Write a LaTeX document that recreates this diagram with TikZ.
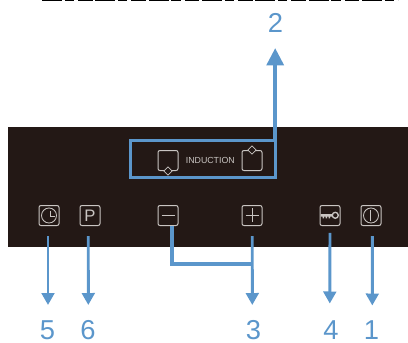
\documentclass[tikz,border=0pt]{standalone}
\usepackage{fontspec}
\setmainfont{Liberation Sans}
\usetikzlibrary{arrows.meta,shapes.geometric}
\definecolor{panel}{HTML}{231815}
\definecolor{callout}{HTML}{5B96CB}
\definecolor{keyline}{HTML}{C9C5C2}
\begin{document}
\begin{tikzpicture}[x=0.75pt,y=-0.75pt,
  key/.style = {draw=keyline, rounded corners=1.5pt, line width=0.75pt, minimum size=15pt, inner sep=0pt, text=keyline},
  tip/.style = {draw=keyline, fill=panel, diamond, line width=0.6pt, minimum size=6.5pt, inner sep=0pt},
  num/.style = {text=callout, font=\fontsize{20.5}{20.5}\selectfont, inner sep=0pt},
  lead/.style = {draw=callout, line width=2.2pt, -{Triangle[length=9pt,width=9.5pt]}},
  glyph/.style = {draw=keyline, line width=0.65pt}]
\useasboundingbox (0,0) rectangle (408,343);
\fill[panel] (8,127) rectangle (408,247);
% what is left of the cut off line at the top
\draw[line width=1.8pt, dash pattern=on 15pt off 2pt on 7pt off 3pt on 11pt off 2pt] (42,0) -- (398,0);
% keys
\node[key] (clock) at (49,215.5) {};
\node[key] (prog) at (90,215.5) {\fontsize{12.5}{12.5}\selectfont P};
\node[key] (minus) at (168,215.5) {};
\node[key] (plus) at (252,215.5) {};
\node[key] (lock) at (330,215.5) {};
\node[key] (power) at (371,215.5) {};
\draw[glyph] (clock) circle (7.5);
\draw[glyph] (50.5,210.7) -- (50.5,216.5) -- (55,216.5);
\draw[glyph] (161.5,215) -- (175,215);
\draw[glyph] (245.5,215) -- (259,215) (252.3,208) -- (252.3,222);
\fill[keyline] (320.7,214) rectangle (332.5,216.7) (322.5,216.7) rectangle (324,218.3) (325.5,216.7) rectangle (327,218.3) (328.5,216.7) rectangle (330,218.3);
\draw[keyline, line width=1pt] (335.3,215.3) circle (3);
\draw[glyph] (power) circle (7.5);
\draw[glyph] (370.8,210) -- (370.8,220.7);
% induction row
\node[key] (zoneb) at (168,160.5) {};
\node[key] (zonet) at (252,160.5) {};
\node[text=keyline, font=\fontsize{6.6}{6.6}\selectfont, inner sep=0pt] (ind) at (210.3,160) {INDUCTION};
\node[tip] (tipb) at (zoneb.south) {};
\node[tip] (tipt) at (zonet.north) {};
\node[draw=callout, line width=2.4pt, outer sep=0pt, minimum width=108.3pt, minimum height=27.5pt, inner sep=0pt] (zonebox) at (203,159.2) {};
% callouts
\coordinate (up) at (275.2,48);
\coordinate (d5) at (48,305);
\coordinate (d6) at (88.3,305);
\coordinate (d3) at (252.3,305);
\coordinate (d4) at (329.8,303.5);
\coordinate (d1) at (372.3,305.5);
\draw[lead, -{Triangle[length=13pt,width=12.5pt]}, line width=3pt] (zonebox.north east) -- (up);
\draw[lead] ([xshift=-0.75pt,yshift=-7.5pt]clock.south) -- (d5);
\draw[lead] ([xshift=-1.3pt,yshift=-7.5pt]prog.south) -- (d6);
\draw[lead] ([xshift=0.2pt,yshift=-7.5pt]plus.south) -- (d3);
\draw[lead] ([yshift=-5.2pt]lock.south) -- (d4);
\draw[lead] ([xshift=1pt,yshift=-7.5pt]power.south) -- (d1);
\draw[callout, line width=3pt] ([xshift=3pt]minus.south) -- ++(0,38) -- ++(80,0);
\node[num] (n2) at (275.5,23) {2};
\node[num] (n5) at (47.5,330) {5};
\node[num] (n6) at (88,330) {6};
\node[num] (n3) at (253.5,330) {3};
\node[num] (n4) at (331,330) {4};
\node[num] (n1) at (371.5,330) {1};
\end{tikzpicture}
\end{document}
